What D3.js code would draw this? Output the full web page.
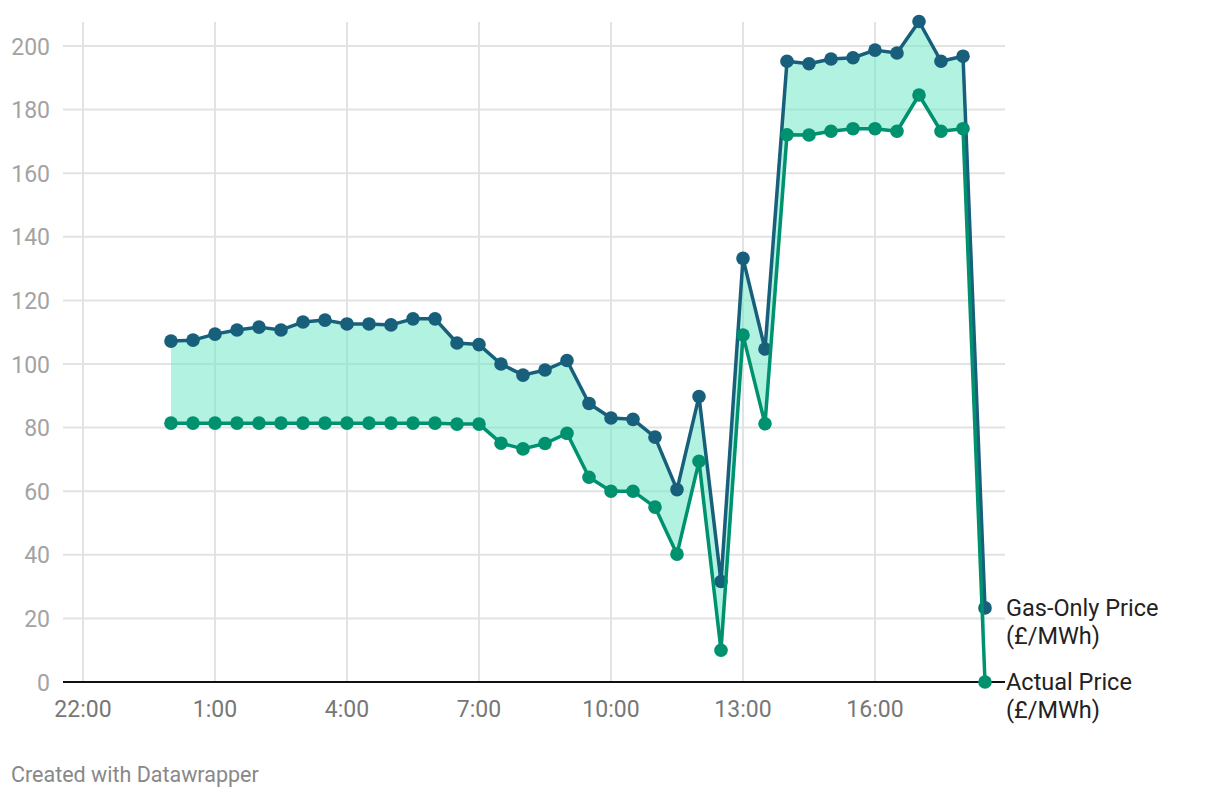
<!DOCTYPE html>
<html><head><meta charset="utf-8">
<script src="https://cdn.jsdelivr.net/npm/d3@7"></script>
<style>
html,body{margin:0;padding:0;background:#fff;}
svg text{font-family:Roboto,"Noto Sans",sans-serif;}
</style></head>
<body>
<svg id="c" width="1220" height="798"></svg>
<script>
const times = ["0:00","0:30","1:00","1:30","2:00","2:30","3:00","3:30","4:00","4:30","5:00","5:30","6:00","6:30","7:00","7:30","8:00","8:30","9:00","9:30","10:00","10:30","11:00","11:30","12:00","12:30","13:00","13:30","14:00","14:30","15:00","15:30","16:00","16:30","17:00","17:30","18:00","18:30"];
const gasOnly = [107.2,107.5,109.4,110.7,111.6,110.7,113.2,113.8,112.6,112.6,112.3,114.2,114.2,106.6,106.1,100.0,96.5,98.1,101.1,87.6,83.0,82.6,77.0,60.5,89.8,31.6,133.2,104.7,195.2,194.4,195.9,196.3,198.7,197.8,207.7,195.2,196.8,23.3];
const actual = [81.4,81.4,81.4,81.4,81.4,81.4,81.4,81.4,81.4,81.4,81.4,81.4,81.4,81.1,81.1,75.1,73.3,75.0,78.2,64.4,60.0,60.0,55.0,40.2,69.4,10.0,109.1,81.2,172.1,172.0,173.2,174.0,174.0,173.2,184.6,173.2,174.0,0];
const xTicks = ["22:00","1:00","4:00","7:00","10:00","13:00","16:00"];
const yTicks = [0,20,40,60,80,100,120,140,160,180,200];
const seriesNames = [["Gas-Only Price","(£/MWh)"],["Actual Price","(£/MWh)"]];

// hours after 22:00 of the previous day
const toH = s => { const [h,m] = s.split(":").map(Number); let v = h + m/60 - 22; if (v < 0) v += 24; return v; };

const svg = d3.select("#c");
const x = d3.scaleLinear().domain([0, 3]).range([83, 215]);
const y = d3.scaleLinear().domain([0, 200]).range([682, 46]);
const cGas = "#175f7b", cAct = "#00916f";

const data = times.map((t,i)=>({h:toH(t), g:gasOnly[i], a:actual[i]}));

// grid
const g = svg.append("g");
g.selectAll(".hg").data(yTicks.filter(d=>d>0)).join("line")
  .attr("x1",63).attr("x2",1005).attr("y1",d=>y(d)).attr("y2",d=>y(d))
  .attr("stroke","#e3e3e3").attr("stroke-width",2);
g.selectAll(".vg").data(xTicks).join("line")
  .attr("x1",d=>x(toH(d))).attr("x2",d=>x(toH(d))).attr("y1",22).attr("y2",682)
  .attr("stroke","#e3e3e3").attr("stroke-width",2);

// y labels
svg.append("g").selectAll("text").data(yTicks).join("text")
  .attr("x",50).attr("y",d=>y(d)+8.5).attr("text-anchor","end")
  .attr("font-size",23).attr("fill","#a3a3a3").text(d=>d);
// x labels
svg.append("g").selectAll("text").data(xTicks).join("text")
  .attr("x",d=>x(toH(d))).attr("y",717).attr("text-anchor","middle")
  .attr("font-size",23).attr("fill","#777").text(d=>d);

// area between
svg.append("path").datum(data)
  .attr("d", d3.area().x(d=>x(d.h)).y0(d=>y(d.a)).y1(d=>y(d.g)))
  .attr("fill","#72e8c8").attr("fill-opacity",0.55);

// baseline
svg.append("line").attr("x1",63).attr("x2",1005).attr("y1",y(0)).attr("y2",y(0))
  .attr("stroke","#111").attr("stroke-width",2);

function drawSeries(key, color){
  svg.append("path").datum(data)
    .attr("d", d3.line().x(d=>x(d.h)).y(d=>y(d[key])))
    .attr("fill","none").attr("stroke",color).attr("stroke-width",3.5).attr("stroke-linejoin","round");
  svg.append("g").selectAll("circle").data(data).join("circle")
    .attr("cx",d=>x(d.h)).attr("cy",d=>y(d[key])).attr("r",6.8).attr("fill",color);
}
drawSeries("g", cGas);
drawSeries("a", cAct);

// end labels
const last = data[data.length-1];
[[last.g, seriesNames[0]],[last.a, seriesNames[1]]].forEach(([v, lines])=>{
  const t = svg.append("text").attr("x",1006).attr("font-size",23.5).attr("fill","#222");
  lines.forEach((l,i)=>t.append("tspan").attr("x",1006).attr("y",y(v)+8+i*28).text(l));
});

svg.append("text").attr("x",11).attr("y",782).attr("font-size",21.5).attr("fill","#888")
  .text("Created with Datawrapper");
</script>
</body></html>
